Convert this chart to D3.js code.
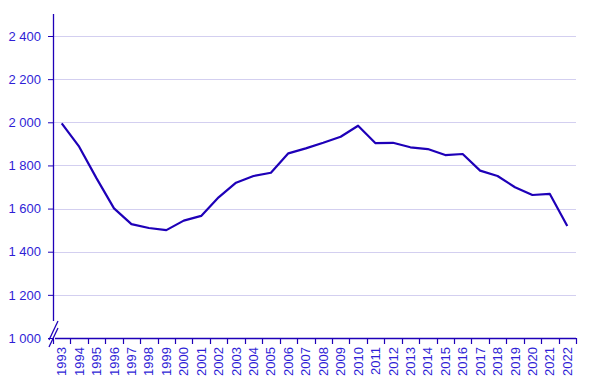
<!DOCTYPE html>
<html>
<head>
<meta charset="utf-8">
<script src="https://cdn.jsdelivr.net/npm/d3@7"></script>
<style>
  body { margin: 0; background: #fff; }
  text { font-family: "Liberation Sans", Arial, sans-serif; }
</style>
</head>
<body>
<svg id="chart" width="591" height="386"></svg>
<script>
const years = ["1993","1994","1995","1996","1997","1998","1999","2000","2001","2002",
  "2003","2004","2005","2006","2007","2008","2009","2010","2011","2012",
  "2013","2014","2015","2016","2017","2018","2019","2020","2021","2022"];
const values = [1995, 1887, 1740, 1601, 1528, 1510, 1500, 1544, 1566, 1652,
  1720, 1751, 1766, 1856, 1879, 1905, 1933, 1984, 1903, 1905,
  1884, 1876, 1848, 1853, 1776, 1751, 1699, 1663, 1668, 1519];
const yTicks = [1000, 1200, 1400, 1600, 1800, 2000, 2200, 2400];

const axisColor = "#1e00b8";
const textColor = "#2f1ed6";
const gridColor = "#d3cff0";

var svg = d3.select("#chart");
var margin = { top: 14, right: 15, bottom: 48, left: 53 };
const width = 591 - margin.left - margin.right;
const height = 386 - margin.top - margin.bottom;

var g = svg.append("g").attr("transform", "translate(" + margin.left + "," + margin.top + ")");

var x = d3.scaleBand().domain(years).range([0, width]);
// top tick (2400) sits ~22px below the top of the axis line
var y = d3.scaleLinear().domain([1000, 2400]).range([height, 22]);

const fmt = d => d3.format(",")(d).replace(",", " ");

// grid
g.selectAll(".grid")
  .data(yTicks.filter(t => t > 1000))
  .enter()
  .append("line")
  .attr("x1", 0)
  .attr("x2", width)
  .attr("y1", d => Math.round(y(d)) + 0.5)
  .attr("y2", d => Math.round(y(d)) + 0.5)
  .attr("stroke", gridColor)
  .attr("stroke-width", 1);

// y axis
var yAxis = g.append("g")
  .call(d3.axisLeft(y).tickValues(yTicks).tickFormat(fmt).tickSize(5).tickSizeOuter(0));
yAxis.select(".domain").remove();
yAxis.selectAll(".tick line").attr("stroke", axisColor);
yAxis.selectAll(".tick text")
  .attr("fill", textColor)
  .attr("font-size", 13)
  .attr("x", -12);

g.append("line")
  .attr("x1", 0.5).attr("x2", 0.5)
  .attr("y1", 0).attr("y2", height - 17)
  .attr("stroke", axisColor).attr("stroke-width", 1.3);

// axis break
[0, 7].forEach(off => {
  g.append("line")
    .attr("x1", -4).attr("y1", height + 9 - off)
    .attr("x2", 5).attr("y2", height - 10 - off)
    .attr("stroke", axisColor).attr("stroke-width", 1.3);
});

// x axis
var xAxis = g.append("g")
  .attr("transform", "translate(0," + height + ")")
  .call(d3.axisBottom(x).tickSize(0));
xAxis.select(".domain").remove();
g.append("line")
  .attr("x1", 2).attr("x2", width)
  .attr("y1", height + 0.5).attr("y2", height + 0.5)
  .attr("stroke", axisColor).attr("stroke-width", 1.3);
g.selectAll(".xtick")
  .data(years.concat(["end"]))
  .enter()
  .append("line")
  .attr("x1", (d, i) => Math.round(i * x.step()) + 0.5)
  .attr("x2", (d, i) => Math.round(i * x.step()) + 0.5)
  .attr("y1", height)
  .attr("y2", height + 6)
  .attr("stroke", axisColor)
  .attr("stroke-width", 1.2);
xAxis.selectAll(".tick text")
  .attr("fill", textColor)
  .attr("font-size", 13)
  .attr("transform", "rotate(-90)")
  .attr("text-anchor", "end")
  .attr("x", -9)
  .attr("y", 0)
  .attr("dy", "0.35em");

// line
var line = d3.line()
  .x((d, i) => x(years[i]) + x.bandwidth() / 2)
  .y(d => y(d));

g.append("path")
  .datum(values)
  .attr("fill", "none")
  .attr("stroke", axisColor)
  .attr("stroke-width", 2.2)
  .attr("stroke-linejoin", "round")
  .attr("d", line);
</script>
</body>
</html>
